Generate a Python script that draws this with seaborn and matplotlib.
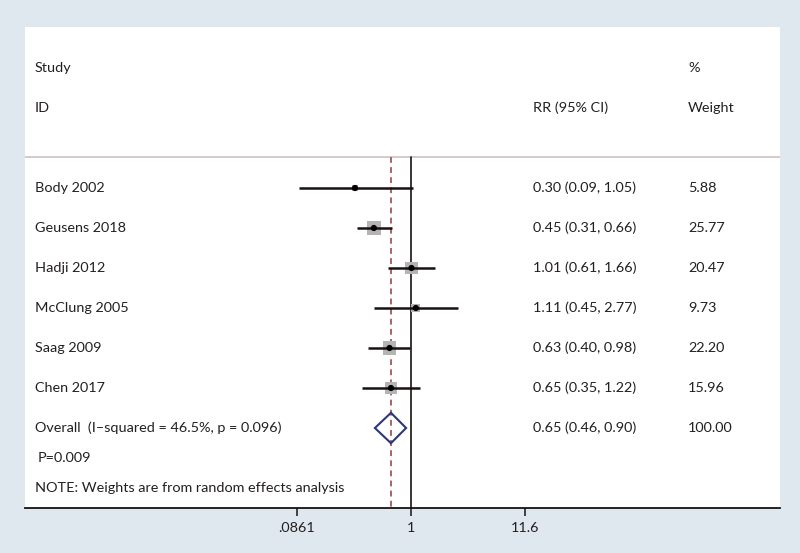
import numpy as np
import pandas as pd
import matplotlib
matplotlib.use("Agg")
import matplotlib.pyplot as plt
import matplotlib.transforms as mtransforms
import seaborn as sns

studies = ["Body 2002", "Geusens 2018", "Hadji 2012", "McClung 2005", "Saag 2009", "Chen 2017"]
rr = [0.30, 0.45, 1.01, 1.11, 0.63, 0.65]
lo = [0.09, 0.31, 0.61, 0.45, 0.40, 0.35]
hi = [1.05, 0.66, 1.66, 2.77, 0.98, 1.22]
weights = [5.88, 25.77, 20.47, 9.73, 22.20, 15.96]
overall_label = "Overall  (I\u2013squared = 46.5%, p = 0.096)"
overall_rr, overall_lo, overall_hi, overall_w = 0.65, 0.46, 0.90, 100.00
p_text = "P=0.009"
note_text = "NOTE: Weights are from random effects analysis"
tick_vals = [0.0861, 1, 11.6]
tick_labels = [".0861", "1", "11.6"]

sns.set_theme(style="white")
plt.rcParams["font.family"] = ["Lato", "DejaVu Sans"]

W, H = 800, 553
fig = plt.figure(figsize=(W / 100, H / 100), dpi=100, facecolor="#dee8ee")
ax = fig.add_axes([25 / W, (H - 508) / H, 755 / W, (508 - 27) / H])
ax.set_facecolor("white")

row_y = np.arange(len(studies)) + 3
df = pd.DataFrame({"study": studies, "rr": rr, "lo": lo, "hi": hi, "w": weights, "y": row_y})

ax.set_xscale("log")
px_per_ln = 46.5
ax.set_xlim(np.exp((25 - 411) / px_per_ln), np.exp((780 - 411) / px_per_ln))
ax.set_ylim(11.0, -1.025)

line_top = 2.22
txt_col = "#231f20"
# reference lines
ax.plot([1, 1], [line_top, 11.0], color="#1a1010", lw=1.2, zorder=1)
ax.plot([overall_rr, overall_rr], [line_top, 11.0], color="#a86464", lw=1.4,
        ls=(0, (3, 2.2)), zorder=1)
# header separator
ax.axhline(line_top, color="#d6c9c9", lw=1.4, zorder=0)

# weight boxes
sns.scatterplot(data=df, x="rr", y="y", s=df["w"] * 4.2, marker="s", color="#b4b4b4",
                edgecolor="none", legend=False, ax=ax, zorder=2)
# CIs
ax.hlines(df["y"], df["lo"], df["hi"], color="#1a1010", lw=1.8, zorder=3)
# point estimates
sns.scatterplot(data=df, x="rr", y="y", s=20, marker="o", color="black",
                edgecolor="none", legend=False, ax=ax, zorder=4)

# overall diamond
oy = len(studies) + 3
dh = 0.38
ax.fill([overall_lo, overall_rr, overall_hi, overall_rr],
        [oy, oy - dh, oy, oy + dh], facecolor="none", edgecolor="#2f3577", lw=1.5, zorder=4)

# text columns
tr = mtransforms.blended_transform_factory(ax.transAxes, ax.transData)
fs = 10.4
x_lab, x_rr, x_w = 10 / 755, 508 / 755, 663 / 755
kw = dict(transform=tr, va="center", fontsize=fs, color=txt_col)
ax.text(x_lab, 0, "Study", **kw)
ax.text(x_lab, 1, "ID", **kw)
ax.text(x_rr, 1, "RR (95% CI)", **kw)
ax.text(x_w, 0, "%", **kw)
ax.text(x_w, 1, "Weight", **kw)
for s, r, l, h, w, y in zip(studies, rr, lo, hi, weights, row_y):
    ax.text(x_lab, y, s, **kw)
    ax.text(x_rr, y, f"{r:.2f} ({l:.2f}, {h:.2f})", **kw)
    ax.text(x_w, y, f"{w:.2f}", **kw)
ax.text(x_lab, oy, overall_label, **kw)
ax.text(x_rr, oy, f"{overall_rr:.2f} ({overall_lo:.2f}, {overall_hi:.2f})", **kw)
ax.text(x_w, oy, f"{overall_w:.2f}", **kw)
ax.text(13 / 755, oy + 0.75, p_text, **kw)
ax.text(x_lab, oy + 1.5, note_text, **kw)

# axes styling
for sp in ["top", "left", "right"]:
    ax.spines[sp].set_visible(False)
ax.spines["bottom"].set_color("#1a1010")
ax.spines["bottom"].set_linewidth(1.3)
ax.set_yticks([])
ax.set_xticks(tick_vals)
ax.set_xticklabels(tick_labels, fontsize=fs, color=txt_col)
ax.xaxis.set_minor_locator(matplotlib.ticker.NullLocator())
ax.tick_params(axis="x", bottom=True, direction="out", length=6, width=1.1,
               color="#1a1010", pad=4)
ax.set_xlabel("")
ax.set_ylabel("")

fig.savefig("out.png", dpi=100, facecolor=fig.get_facecolor())
